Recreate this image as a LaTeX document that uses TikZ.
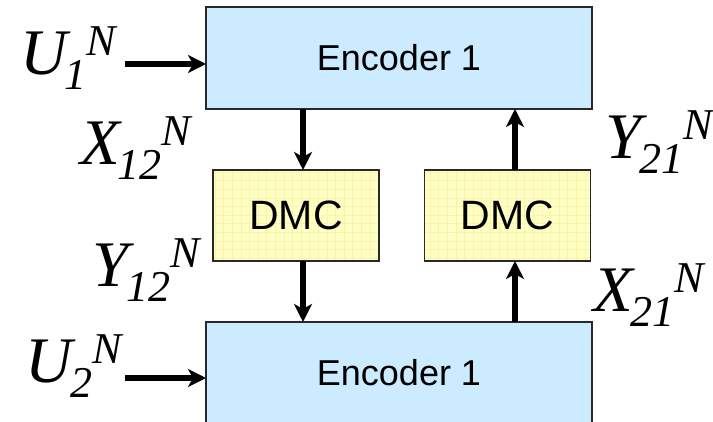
\documentclass[tikz,border=0pt]{standalone}
\usepackage{fontspec}
\setmainfont{Liberation Serif}
\newfontfamily\arialfont{Liberation Sans}
\usetikzlibrary{arrows.meta}

\definecolor{encfill}{RGB}{204,235,255}
\definecolor{dmcfill}{RGB}{255,255,196}
\definecolor{dmcgrid}{RGB}{248,244,172}
\definecolor{boxline}{RGB}{40,40,40}

% italic symbol with lowered index and raised N, written one after the other
\newcommand{\chsym}[2]{\itshape{\fontsize{65}{65}\selectfont #1}\kern-2pt%
  \raisebox{-15pt}{\fontsize{44}{44}\selectfont #2}%
  \raisebox{19pt}{\fontsize{44}{44}\selectfont N}}

\tikzset{
  encbox/.style={draw=boxline, line width=1.4pt, fill=encfill, outer sep=0pt,
    minimum width=386pt, minimum height=102pt, inner sep=0pt,
    font=\arialfont\fontsize{36}{36}\selectfont},
  dmcbox/.style={draw=boxline, line width=1.4pt, outer sep=0pt,
    minimum width=166pt, minimum height=91pt, inner sep=0pt,
    font=\arialfont\fontsize{41}{41}\selectfont},
  symlabel/.style={anchor=base west, inner sep=0pt, outer sep=0pt},
  arr/.style={line width=5.5pt, -{Stealth[length=18pt,width=18pt,inset=5pt]}},
}

\begin{document}
\begin{tikzpicture}[x=1pt, y=-1pt]
  \useasboundingbox (0,0) rectangle (713,422);
  \clip (0,0) rectangle (713,422);
  \fill[white] (0,0) rectangle (713,422);

  % encoder blocks
  \node[encbox] (enc1) at (399,58) {Encoder 1};
  \node[encbox] (enc2) at (399,373) {Encoder 1};

  % channel blocks, filled with a faint grid texture
  \foreach \nm/\cx in {dmc1/296, dmc2/507.5} {
    \fill[dmcfill] (\cx-83,170) rectangle (\cx+83,261);
    \begin{scope}
      \clip (\cx-83,170) rectangle (\cx+83,261);
      \draw[dmcgrid, line width=0.5pt, xstep=8.6pt, ystep=8.6pt]
        (\cx-83,170) grid (\cx+83,261);
    \end{scope}
    \node[dmcbox] (\nm) at (\cx,215.5) {DMC};
  }

  % source inputs
  \coordinate (u1in) at (125,64);
  \coordinate (u2in) at (125,378);
  \draw[arr] (u1in) -- (u1in -| enc1.west);
  \draw[arr] (u2in) -- (u2in -| enc2.west);

  % vertical links between encoders and channels
  \coordinate (la) at (303,0);
  \coordinate (ra) at (515,0);
  \draw[arr] (enc1.south -| la) -- (dmc1.north -| la);
  \draw[arr] (dmc1.south -| la) -- (enc2.north -| la);
  \draw[arr] (dmc2.north -| ra) -- (enc1.south -| ra);
  \draw[arr] (enc2.north -| ra) -- (dmc2.south -| ra);

  % signal labels
  \node[symlabel] (u1) at (20,75)  {\chsym{U}{1}};
  \node[symlabel] (u2) at (26,382) {\chsym{U}{2}};
  \node[symlabel] (x12) at (80,165) {\chsym{X}{12}};
  \node[symlabel] (y12) at (92,287) {\chsym{Y}{12}};
  \node[symlabel] (y21) at (605,159) {\chsym{Y}{21}};
  \node[symlabel] (x21) at (593,312) {\chsym{X}{21}};
\end{tikzpicture}
\end{document}
